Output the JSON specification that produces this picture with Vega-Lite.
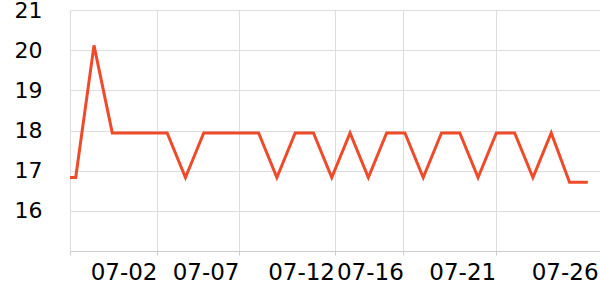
{
  "$schema": "https://vega.github.io/schema/vega-lite/v6.json",
  "autosize": {"type": "none"},
  "padding": {"left": 70, "top": 10, "right": 0, "bottom": 49},
  "width": 530,
  "height": 241,
  "background": "white",
  "config": {"view": {"stroke": null}, "font": "DejaVu Sans"},
  "data": {"values": [
    {"time": "2024-06-27T22:30", "value": 16.83},
    {"time": "2024-06-28T06:00", "value": 16.83},
    {"time": "2024-06-29T06:00", "value": 20.12},
    {"time": "2024-06-30T06:00", "value": 17.94},
    {"time": "2024-07-01T06:00", "value": 17.94},
    {"time": "2024-07-02T06:00", "value": 17.94},
    {"time": "2024-07-03T06:00", "value": 17.94},
    {"time": "2024-07-04T06:00", "value": 16.83},
    {"time": "2024-07-05T06:00", "value": 17.94},
    {"time": "2024-07-06T06:00", "value": 17.94},
    {"time": "2024-07-07T06:00", "value": 17.94},
    {"time": "2024-07-08T06:00", "value": 17.94},
    {"time": "2024-07-09T06:00", "value": 16.83},
    {"time": "2024-07-10T06:00", "value": 17.94},
    {"time": "2024-07-11T06:00", "value": 17.94},
    {"time": "2024-07-12T06:00", "value": 16.83},
    {"time": "2024-07-13T06:00", "value": 17.94},
    {"time": "2024-07-14T06:00", "value": 16.83},
    {"time": "2024-07-15T06:00", "value": 17.94},
    {"time": "2024-07-16T06:00", "value": 17.94},
    {"time": "2024-07-17T06:00", "value": 16.83},
    {"time": "2024-07-18T06:00", "value": 17.94},
    {"time": "2024-07-19T06:00", "value": 17.94},
    {"time": "2024-07-20T06:00", "value": 16.83},
    {"time": "2024-07-21T06:00", "value": 17.94},
    {"time": "2024-07-22T06:00", "value": 17.94},
    {"time": "2024-07-23T06:00", "value": 16.83},
    {"time": "2024-07-24T06:00", "value": 17.94},
    {"time": "2024-07-25T06:00", "value": 16.71},
    {"time": "2024-07-26T06:00", "value": 16.71}
  ]},
  "mark": {"type": "line", "color": "#ee4b2b", "strokeWidth": 3},
  "encoding": {
    "x": {
      "field": "time",
      "type": "temporal",
      "title": null,
      "scale": {
        "domain": [
          {"year": 2024, "month": 6, "date": 27, "hours": 22, "minutes": 30},
          {"year": 2024, "month": 7, "date": 26, "hours": 22, "minutes": 0}
        ]
      },
      "axis": {
        "values": [
          {"year": 2024, "month": 6, "date": 27, "hours": 22, "minutes": 30},
          {"year": 2024, "month": 7, "date": 2, "hours": 16, "minutes": 40},
          {"year": 2024, "month": 7, "date": 7, "hours": 4, "minutes": 16},
          {"year": 2024, "month": 7, "date": 12, "hours": 9, "minutes": 36},
          {"year": 2024, "month": 7, "date": 16, "hours": 3, "minutes": 51},
          {"year": 2024, "month": 7, "date": 21, "hours": 5, "minutes": 6},
          {"year": 2024, "month": 7, "date": 26, "hours": 19, "minutes": 26}
        ],
        "format": "%m-%d",
        "labelExpr": "datum.value < datetime(2024, 5, 28, 0, 0) ? '' : datum.label",
        "labelAlign": "right",
        "labelFlush": false,
        "labelOverlap": false,
        "labelFontSize": 23,
        "labelColor": "#000000",
        "labelPadding": 6,
        "tickSize": 4,
        "tickColor": "#cccccc",
        "domainColor": "#cccccc",
        "gridColor": "#dddddd",
        "grid": true,
        "gridOpacity": {"condition": {"test": "datum.value > datetime(2024, 6, 26, 0, 0)", "value": 0}, "value": 1},
        "tickOpacity": {"condition": {"test": "datum.value > datetime(2024, 6, 26, 0, 0)", "value": 0}, "value": 1}
      }
    },
    "y": {
      "field": "value",
      "type": "quantitative",
      "title": null,
      "scale": {"domain": [15, 21], "nice": false, "zero": false},
      "axis": {
        "values": [16, 17, 18, 19, 20, 21],
        "ticks": false,
        "domain": false,
        "labelFontSize": 22,
        "labelColor": "#000000",
        "labelPadding": 28,
        "gridColor": "#dddddd"
      }
    }
  }
}
